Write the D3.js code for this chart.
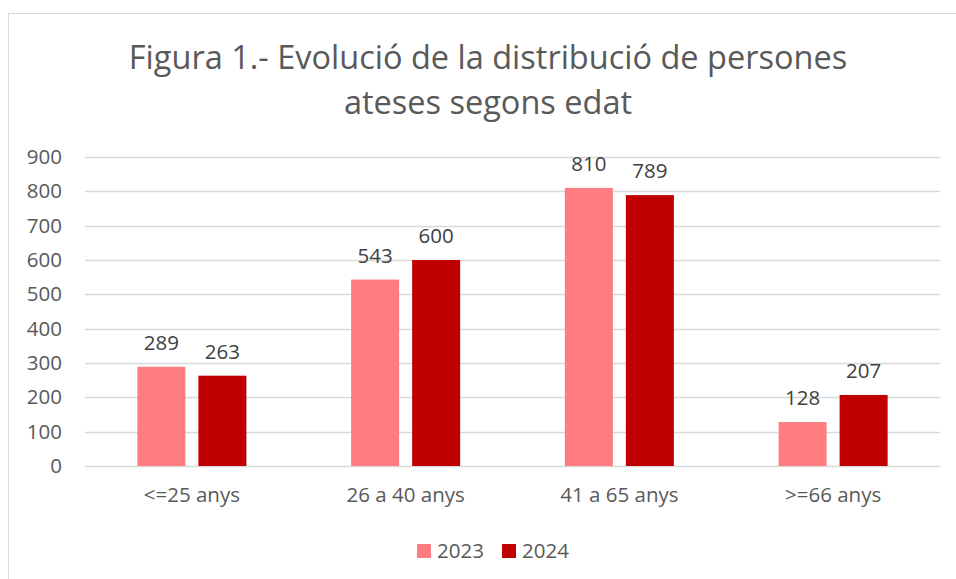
<!DOCTYPE html>
<html>
<head>
<meta charset="utf-8">
<script src="https://cdn.jsdelivr.net/npm/d3@7"></script>
<style>
  body { margin: 0; background: #fff; }
  text { font-family: "Open Sans", "Noto Sans", sans-serif; }
</style>
</head>
<body>
<div id="chart"></div>
<script>
// data
var categories = ["<=25 anys", "26 a 40 anys", "41 a 65 anys", ">=66 anys"];
var seriesNames = ["2023", "2024"];
var values2023 = [289, 543, 810, 128];
var values2024 = [263, 600, 789, 207];
var yTicks = [0, 100, 200, 300, 400, 500, 600, 700, 800, 900];
var titleLines = ["Figura 1.- Evolució de la distribució de persones", "ateses segons edat"];

var colors = ["#FF7C80", "#C00000"];

var svgWidth = 956;
var svgHeight = 579;

var margin = { top: 157, bottom: 113, left: 85, right: 16 };
var width = svgWidth - margin.left - margin.right;
var height = svgHeight - margin.top - margin.bottom;

var svg = d3.select("#chart")
  .append("svg")
  .attr("width", svgWidth)
  .attr("height", svgHeight);

// chart border (only top and left visible in the crop)
svg.append("path")
  .attr("d", "M8.5,600 L8.5,13.5 L960,13.5")
  .attr("fill", "none")
  .attr("stroke", "#d9d9d9")
  .attr("stroke-width", 1);

// title
svg.append("g").selectAll("text")
  .data(titleLines)
  .enter()
  .append("text")
  .attr("x", 488)
  .attr("y", (d, i) => 69 + i * 45)
  .attr("text-anchor", "middle")
  .style("font-size", "32.5px")
  .style("fill", "#595959")
  .text(d => d);

var chartGroup = svg.append("g")
  .attr("transform", `translate(${margin.left}, ${margin.top})`);

var xScale = d3.scaleBand()
  .domain(categories)
  .range([0, width])
  .paddingInner(0.49)
  .paddingOuter(0.245);

var x1 = d3.scaleBand()
  .domain(seriesNames)
  .range([0, xScale.bandwidth()])
  .paddingInner(0.213);

var yScale = d3.scaleLinear()
  .domain([0, 900])
  .range([height, 0]);

// gridlines
chartGroup.append("g")
  .selectAll("line")
  .data(yTicks)
  .enter()
  .append("line")
  .attr("x1", 0)
  .attr("x2", width)
  .attr("y1", d => Math.round(yScale(d)) + 0.5)
  .attr("y2", d => Math.round(yScale(d)) + 0.5)
  .attr("stroke", "#d9d9d9")
  .attr("stroke-width", 1.5);

// y axis labels
var yAxis = d3.axisLeft(yScale).tickValues(yTicks).tickSize(0).tickPadding(23);
var yAxisG = chartGroup.append("g").call(yAxis);
yAxisG.select(".domain").remove();
yAxisG.selectAll("text")
  .style("font-size", "20.5px")
  .style("fill", "#595959")
  .style("font-family", "'Open Sans', sans-serif");

// x axis labels
var xAxis = d3.axisBottom(xScale).tickSize(0).tickPadding(21);
var xAxisG = chartGroup.append("g")
  .attr("transform", `translate(0, ${height})`)
  .call(xAxis);
xAxisG.select(".domain").remove();
xAxisG.selectAll("text")
  .style("font-size", "20.5px")
  .style("fill", "#595959")
  .style("font-family", "'Open Sans', sans-serif");

var table = categories.map(function (c, i) {
  return { category: c, values: [
    { name: seriesNames[0], value: values2023[i] },
    { name: seriesNames[1], value: values2024[i] }
  ] };
});

var groups = chartGroup.selectAll(".group")
  .data(table)
  .enter()
  .append("g")
  .attr("class", "group")
  .attr("transform", d => `translate(${xScale(d.category)}, 0)`);

groups.selectAll("rect")
  .data(d => d.values)
  .enter()
  .append("rect")
  .attr("x", d => x1(d.name))
  .attr("y", d => yScale(d.value))
  .attr("width", x1.bandwidth())
  .attr("height", d => height - yScale(d.value))
  .attr("fill", (d, i) => colors[i]);

groups.selectAll(".label")
  .data(d => d.values)
  .enter()
  .append("text")
  .attr("class", "label")
  .attr("x", d => x1(d.name) + x1.bandwidth() / 2)
  .attr("y", d => yScale(d.value) - 17)
  .attr("text-anchor", "middle")
  .style("font-size", "20.5px")
  .style("fill", "#404040")
  .text(d => d.value);

// legend
var legend = svg.append("g")
  .attr("transform", "translate(417, 544)");

var legendItems = legend.selectAll("g")
  .data(seriesNames)
  .enter()
  .append("g")
  .attr("transform", (d, i) => `translate(${i * 85}, 0)`);

legendItems.append("rect")
  .attr("width", 14)
  .attr("height", 14)
  .attr("fill", (d, i) => colors[i]);

legendItems.append("text")
  .attr("x", 20)
  .attr("y", 14)
  .style("font-size", "20.5px")
  .style("fill", "#595959")
  .text(d => d);
</script>
</body>
</html>
